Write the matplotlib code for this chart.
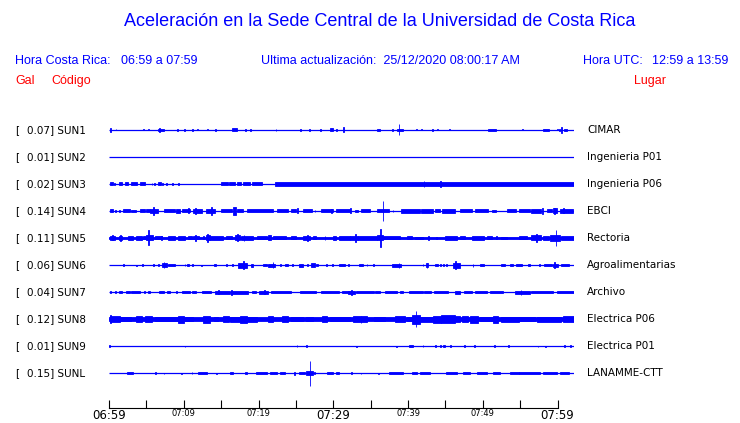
import matplotlib
matplotlib.use("Agg")
import matplotlib.pyplot as plt

# minutes after 06:59, one trace per station
CODES = ["SUN1", "SUN2", "SUN3", "SUN4", "SUN5", "SUN6", "SUN7", "SUN8", "SUN9", "SUNL"]
PEAK_GAL = [0.07, 0.01, 0.02, 0.14, 0.11, 0.06, 0.04, 0.12, 0.01, 0.15]
PLACES = ["CIMAR", "Ingenieria P01", "Ingenieria P06", "EBCI", "Rectoria",
          "Agroalimentarias", "Archivo", "Electrica P06", "Electrica P01", "LANAMME-CTT"]
TICK_LABELS = ["06:59", "", "07:09", "", "07:19", "", "07:29", "", "07:39", "", "07:49", "", "07:59"]
TRACE_END = 62.2  # data runs a little past 07:59 (update 08:00:17)

# (start minute, end minute, half amplitude) bursts
SUN1 = [(0.2, 0.3, 2), (0.9, 1.0, 0.5), (4.55, 4.65, 0.5), (5.2, 5.3, 0.5), (6.6, 7.4, 1.3),
        (6.7, 6.8, 2), (9.1, 9.2, 0.8), (10.0, 10.1, 0.8), (11.1, 11.2, 0.8), (11.8, 11.9, 0.5),
        (13.1, 13.2, 0.5), (14.2, 14.3, 0.6), (16.5, 17.1, 1.5), (18.2, 18.3, 0.8),
        (18.9, 19.0, 0.8), (21.3, 21.4, 0.4), (22.3, 22.4, 0.8), (25.6, 25.7, 0.8),
        (26.8, 26.9, 0.8), (28.2, 28.3, 0.8), (29.6, 29.9, 1.5), (30.4, 30.5, 0.8),
        (31.3, 31.4, 2.5), (35.9, 36.2, 1.3), (37.9, 38.0, 0.8), (38.5, 39.3, 1.3),
        (38.75, 38.85, 5.5), (41.1, 41.2, 0.5), (41.8, 41.9, 0.5), (43.2, 43.3, 0.8),
        (43.9, 44.0, 0.5), (45.5, 45.6, 0.5), (47.4, 47.5, 0.3), (48.7, 48.8, 0.3),
        (50.7, 51.8, 0.8), (54.9, 55.0, 0.3), (55.3, 55.4, 0.5), (58.0, 58.8, 1.0),
        (59.9, 60.0, 0.5), (60.2, 60.3, 0.8), (60.5, 60.6, 3), (60.9, 61.2, 1.2)]
SUN2 = []
SUN3 = [(0.1, 0.6, 1.5), (0.7, 0.8, 1), (1.3, 1.8, 1.5), (2.1, 2.6, 1.5), (3.0, 3.8, 1.5),
        (4.1, 4.8, 1.5), (5.7, 5.8, 1), (6.0, 6.1, 1), (6.6, 6.9, 1.5), (7.1, 7.2, 1),
        (7.6, 7.7, 1), (8.4, 8.5, 1), (9.2, 9.3, 0.8), (15.0, 15.9, 1.5), (16.1, 16.9, 1.5),
        (17.1, 17.7, 1.5), (17.9, 18.8, 1.5), (19.1, 20.5, 1.5), (22.2, 62.2, 1.8),
        (42.1, 42.2, 2.8), (44.3, 44.4, 2.8)]
SUN4 = [(0.1, 0.6, 1.5), (0.8, 1.0, 1.3), (1.3, 1.45, 1), (1.9, 2.8, 1.5), (3.0, 3.6, 1.3),
        (4.2, 4.8, 1.5), (5.0, 5.5, 1.5), (5.5, 6.6, 2), (5.9, 6.0, 4), (7.4, 8.8, 1.5),
        (8.9, 9.5, 2), (9.8, 10.8, 1.5), (10.55, 10.65, 2.5), (11.3, 12.4, 1.8),
        (11.5, 11.6, 3), (13.0, 14.2, 2), (13.65, 13.75, 4), (15.0, 16.4, 1.5),
        (16.6, 17.0, 4), (17.1, 17.9, 1.5), (18.4, 21.9, 1.5), (22.5, 24.0, 1.5),
        (24.4, 25.0, 1.5), (25.2, 25.3, 2.5), (26.0, 27.1, 1.5), (27.5, 27.6, 1),
        (28.3, 30.0, 1.5), (29.75, 29.85, 2), (30.4, 32.2, 1.5), (32.25, 32.35, 2.5),
        (32.9, 33.3, 1.3), (33.7, 34.9, 1.5), (35.8, 37.4, 1.5), (36.6, 36.7, 10),
        (37.95, 38.05, 1), (39.1, 41.6, 1.8), (41.8, 43.4, 1.8), (43.6, 44.3, 1.5),
        (44.5, 46.3, 1.8), (47.0, 48.5, 1.5), (49.0, 50.7, 1.5), (51.2, 51.7, 1.3),
        (53.2, 54.5, 1.5), (54.9, 56.3, 1.5), (56.5, 57.8, 1.8), (57.95, 58.1, 3),
        (58.6, 59.2, 1.5), (59.4, 59.9, 2.5), (59.55, 59.65, 3), (60.3, 62.1, 1.8),
        (60.75, 60.85, 2.5)]
SUN5 = [(0.0, 62.2, 0.8), (0.1, 0.8, 2), (0.4, 0.5, 2.5), (1.3, 1.7, 2), (1.45, 1.55, 3),
        (2.6, 3.2, 1.8), (3.6, 4.4, 2), (4.6, 5.0, 1.5), (5.0, 5.9, 2.5), (5.25, 5.35, 7.5),
        (6.1, 7.1, 1.5), (7.0, 7.15, 2), (7.9, 8.8, 2), (9.2, 10.2, 2), (10.6, 11.1, 1.5),
        (11.3, 12.1, 1.5), (11.55, 11.65, 3), (12.6, 12.7, 1.5), (13.0, 13.5, 2.5),
        (13.1, 13.2, 4), (13.5, 15.3, 1.8), (15.7, 16.4, 1.5), (16.9, 17.5, 2.5),
        (17.15, 17.25, 3.5), (17.7, 19.3, 1.8), (18.0, 18.1, 3), (19.8, 21.1, 1.5),
        (21.3, 21.7, 2.5), (22.0, 23.7, 1.5), (24.4, 25.0, 1.5), (26.0, 26.9, 2),
        (26.55, 26.65, 3), (27.3, 27.7, 1.5), (28.85, 28.95, 2), (30.0, 30.4, 2),
        (30.8, 32.2, 1.8), (32.2, 33.3, 2), (32.95, 33.05, 4), (33.3, 35.8, 1.8),
        (35.8, 36.6, 2.5), (36.3, 36.4, 9), (36.6, 38.9, 1.5), (39.8, 40.5, 1.5),
        (40.9, 42.0, 1.3), (42.65, 42.75, 2), (43.75, 43.85, 1.3), (44.9, 46.5, 1.8),
        (47.0, 47.6, 1.5), (48.5, 50.1, 1.8), (50.5, 51.2, 1.5), (51.75, 51.85, 1.5),
        (52.5, 53.2, 1.3), (54.9, 55.9, 1.5), (56.5, 57.8, 2.5), (57.15, 57.25, 4),
        (58.0, 58.8, 1.8), (59.0, 60.3, 3), (59.75, 59.85, 8), (60.5, 62.2, 2.2)]
SUN6 = [(1.85, 1.95, 0.8), (3.6, 3.7, 0.5), (4.4, 4.55, 1), (5.85, 6.0, 1), (6.55, 6.65, 0.8),
        (7.1, 7.7, 1.8), (7.3, 7.4, 3), (7.9, 8.8, 1.3), (10.1, 10.2, 0.8), (10.5, 10.65, 1),
        (11.15, 11.25, 0.8), (12.35, 12.45, 0.5), (14.1, 14.3, 1.3), (15.7, 15.8, 0.8),
        (16.5, 16.65, 1), (17.3, 18.4, 2.5), (17.9, 18.0, 4), (19.0, 19.3, 1.5),
        (20.6, 21.1, 1.3), (21.3, 22.2, 1.5), (21.9, 22.0, 3), (22.85, 22.95, 0.8),
        (23.5, 24.0, 1.3), (24.5, 24.6, 0.8), (25.4, 26.0, 1.5), (26.55, 26.65, 0.8),
        (27.0, 27.5, 1.8), (27.7, 27.9, 0.8), (29.05, 29.15, 1.3), (29.85, 29.95, 0.8),
        (30.8, 31.6, 1.3), (31.95, 32.05, 1), (33.5, 34.0, 1.3), (34.45, 34.55, 1),
        (35.35, 35.45, 1), (37.8, 39.1, 1.5), (38.75, 38.85, 2.5), (41.95, 42.05, 0.8),
        (42.4, 42.7, 2), (42.5, 42.6, 2.5), (43.6, 44.0, 1), (44.25, 44.35, 0.8),
        (44.65, 44.75, 0.8), (45.05, 45.15, 0.8), (46.0, 46.9, 2.5), (46.25, 46.35, 4),
        (48.65, 48.75, 1.5), (49.6, 50.2, 1), (52.5, 53.0, 1), (53.6, 54.1, 1),
        (54.5, 55.2, 1), (56.1, 56.3, 1.3), (57.55, 57.65, 0.8), (58.2, 59.2, 1.3),
        (59.4, 60.1, 1.5), (59.55, 59.65, 3), (60.5, 61.5, 1)]
SUN7 = [(0.15, 0.3, 1.3), (0.8, 1.0, 1), (1.3, 1.7, 1), (2.3, 2.8, 1), (3.0, 4.2, 1.3),
        (4.7, 4.85, 1), (5.2, 5.5, 0.8), (6.75, 7.3, 1.3), (7.7, 8.2, 1), (8.95, 9.05, 0.8),
        (9.75, 10.8, 1.3), (11.1, 11.7, 1.3), (12.4, 13.7, 1.3), (14.2, 16.2, 1.5),
        (14.55, 14.65, 2), (16.3, 18.6, 1.5), (16.3, 16.4, 2.5), (19.1, 19.6, 1.3),
        (20.0, 21.3, 1.5), (20.75, 20.85, 2), (21.7, 24.4, 1.3), (25.6, 27.7, 1.3),
        (28.3, 30.8, 1), (31.1, 32.2, 1.3), (32.0, 32.9, 1.5), (32.35, 32.45, 2.5),
        (33.1, 35.4, 1.3), (35.6, 36.2, 1.3), (36.9, 38.5, 1.3), (38.9, 39.3, 0.8),
        (40.1, 42.0, 1.3), (42.2, 43.1, 1.3), (43.5, 45.4, 1.3), (46.3, 47.0, 1.5),
        (47.5, 48.5, 1.3), (48.9, 50.5, 1), (50.9, 52.7, 1.3), (54.3, 56.3, 1.5),
        (55.05, 55.15, 2.5), (56.5, 59.4, 1.3), (59.9, 62.2, 1.3)]
SUN8 = [(0.0, 62.2, 1.8), (0.1, 1.5, 3), (0.2, 0.3, 4), (1.5, 3.0, 2.3), (3.6, 4.4, 3),
        (4.8, 5.7, 2.8), (6.1, 9.2, 2.3), (9.2, 10.0, 3.5), (10.2, 11.3, 2.3), (12.6, 13.5, 3.5),
        (14.0, 14.6, 2.3), (15.3, 16.0, 2.8), (16.2, 17.5, 2.5), (17.5, 18.4, 3.5),
        (18.4, 19.8, 2.5), (21.3, 22.0, 2.8), (23.1, 24.0, 3), (24.4, 26.0, 2.3),
        (26.4, 27.3, 2.3), (28.5, 29.1, 2.8), (29.5, 32.2, 2.3), (32.7, 34.5, 2.8),
        (33.65, 33.75, 3.5), (35.4, 36.9, 2.3), (38.3, 39.6, 3), (39.8, 40.5, 2.3),
        (40.5, 41.6, 4.5), (41.0, 41.1, 8), (41.6, 43.3, 2.5), (43.3, 44.4, 3.5),
        (44.4, 46.3, 4), (46.3, 47.0, 3), (47.2, 48.0, 3), (48.3, 49.4, 3.5),
        (49.6, 51.4, 2.3), (51.4, 52.1, 3.5), (52.4, 54.9, 2.5), (54.9, 57.0, 2.0),
        (57.2, 60.5, 2.5), (60.7, 62.2, 3.2)]
SUN9 = [(0.05, 0.2, 1), (10.1, 10.2, 0.5), (25.1, 25.2, 0.7), (26.35, 26.5, 0.7),
        (33.05, 33.15, 0.5), (38.45, 38.55, 0.5), (40.1, 40.7, 1), (41.95, 42.05, 0.7),
        (43.6, 43.7, 0.7), (44.3, 44.4, 0.7), (44.7, 45.0, 0.8), (45.6, 45.7, 0.7),
        (47.55, 47.65, 0.7), (48.85, 48.95, 0.7), (51.55, 51.65, 0.8), (53.35, 53.45, 0.7),
        (57.35, 57.45, 0.5), (58.35, 58.45, 0.5), (60.85, 60.95, 0.7), (61.65, 61.75, 0.7)]
SUNL = [(2.4, 3.2, 1), (6.1, 6.3, 1), (7.3, 7.4, 0.5), (9.6, 9.7, 0.5), (11.05, 11.15, 0.7),
        (11.9, 13.1, 1), (14.35, 14.45, 0.5), (16.2, 16.6, 1), (18.2, 18.45, 1),
        (19.6, 21.1, 1), (21.5, 22.5, 1), (22.9, 23.5, 1.3), (24.8, 24.9, 1.5),
        (25.4, 26.2, 0.8), (26.4, 27.3, 2), (26.85, 26.95, 12.5), (27.45, 27.55, 0.8),
        (29.1, 30.0, 1.3), (30.4, 30.8, 0.8), (32.35, 32.45, 0.7), (33.65, 33.75, 0.5),
        (35.95, 36.05, 0.5), (37.4, 39.3, 1), (40.5, 41.2, 0.8), (41.6, 42.9, 0.8),
        (45.1, 46.5, 1.2), (47.4, 48.3, 1), (49.2, 50.5, 0.8), (51.4, 52.3, 0.8),
        (53.6, 54.9, 1.3), (54.9, 57.6, 1), (58.0, 59.9, 1), (60.3, 61.5, 0.8)]

TRACES = [SUN1, SUN2, SUN3, SUN4, SUN5, SUN6, SUN7, SUN8, SUN9, SUNL]

W, H = 740, 423
BLUE = "#0000ff"


def fx(px):
    return px / W


def fy(py):
    return 1 - py / H


fig = plt.figure(figsize=(W / 100, H / 100), dpi=100)

# header
hdr = dict(family="Liberation Sans", fontsize=9)
fig.text(fx(380), fy(22), "Aceleración en la Sede Central de la Universidad de Costa Rica",
         color=BLUE, family="Liberation Sans", fontsize=13, ha="center", va="center")
fig.text(fx(15), fy(61), "Hora Costa Rica:", color=BLUE, va="center", **hdr)
fig.text(fx(121), fy(61), "06:59 a 07:59", color=BLUE, va="center", **hdr)
fig.text(fx(261), fy(61), "Ultima actualización:  25/12/2020 08:00:17 AM",
         color=BLUE, va="center", **hdr)
fig.text(fx(583), fy(61), "Hora UTC:", color=BLUE, va="center", **hdr)
fig.text(fx(652), fy(61), "12:59 a 13:59", color=BLUE, va="center", **hdr)
fig.text(fx(15), fy(81), "Gal", color="red", va="center", **hdr)
fig.text(fx(51), fy(81), "Código", color="red", va="center", **hdr)
fig.text(fx(634), fy(81), "Lugar", color="red", va="center", **hdr)

# traces, 1 data unit = 1 px vertically
ax = fig.add_axes([fx(109), 15 / H, (574 - 109) / W, 298 / H])
ax.set_xlim(0, TRACE_END)
ax.set_ylim(0, 298)

for i, (code, gal, place, events) in enumerate(zip(CODES, PEAK_GAL, PLACES, TRACES)):
    y0 = 278 - 27 * i
    ax.hlines(y0, 0, TRACE_END, color=BLUE, lw=0.9)
    if events:
        starts = [e[0] for e in events]
        widths = [e[1] - e[0] for e in events]
        amps = [e[2] for e in events]
        ax.bar(starts, [2 * a for a in amps], width=widths,
               bottom=[y0 - a for a in amps], align="edge",
               color=BLUE, edgecolor=BLUE, linewidth=0.6)
    py = 130 + 27 * i
    fig.text(fx(15), fy(py), "[", fontsize=7.5, va="center")
    fig.text(fx(27), fy(py), f"{gal:.2f}] {code}", fontsize=7.5, va="center")
    fig.text(fx(587), fy(py), place, fontsize=7.5, va="center")

for side in ["top", "left", "right"]:
    ax.spines[side].set_visible(False)
ax.spines["bottom"].set_bounds(0, 60)
ax.spines["bottom"].set_linewidth(0.8)
ax.set_yticks([])
ax.set_xticks(range(0, 61, 5))
ax.set_xticklabels(TICK_LABELS)
ax.tick_params(axis="x", direction="in", length=6, width=0.8, pad=0.5)
for lab in ax.get_xticklabels():
    lab.set_fontsize(8.5 if lab.get_text() in ("06:59", "07:29", "07:59") else 6)

fig.savefig("out.png", dpi=100)
